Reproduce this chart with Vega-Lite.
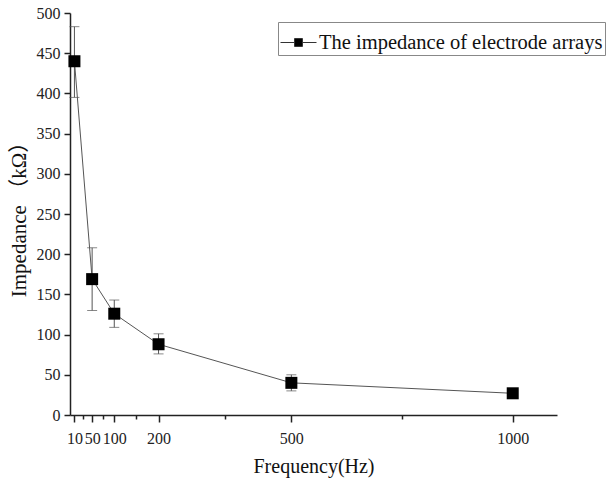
{
  "$schema": "https://vega.github.io/schema/vega-lite/v6.json",
  "width": 487,
  "height": 402,
  "autosize": {"type": "none"},
  "padding": {"left": 70, "top": 13, "right": 50, "bottom": 63},
  "background": "white",
  "data": {"values": [
    {"f": 10, "z": 440, "lo": 395, "hi": 483},
    {"f": 50, "z": 169, "lo": 130, "hi": 208},
    {"f": 100, "z": 126, "lo": 109, "hi": 143},
    {"f": 200, "z": 88, "lo": 76, "hi": 101},
    {"f": 500, "z": 40, "lo": 30, "hi": 50},
    {"f": 1000, "z": 27, "lo": 25, "hi": 29}
  ]},
  "config": {
    "font": "Liberation Serif",
    "view": {"stroke": null},
    "axis": {
      "domainColor": "#222", "tickColor": "#222", "labelColor": "#222", "titleColor": "#111",
      "grid": false, "labelFont": "Liberation Serif", "titleFont": "Liberation Serif, Noto Sans CJK SC",
      "titleFontWeight": "normal", "labelFontSize": 16, "titleFontSize": 20, "domainWidth": 1.5, "tickWidth": 1.5
    }
  },
  "encoding": {
    "x": {"field": "f", "type": "quantitative",
      "scale": {"domain": [0, 1100], "nice": false, "zero": false},
      "axis": {
        "title": "Frequency(Hz)",
        "format": "d",
        "values": [10, 30, 50, 75, 100, 150, 200, 350, 500, 750, 1000],
        "labelExpr": "indexof([10,50,100,200,500,1000], datum.value) >= 0 ? datum.label : ''",
        "tickSize": {"condition": {"test": "indexof([10,50,100,200,500,1000], datum.value) >= 0", "value": 7}, "value": 4},
        "labelPadding": 8,
        "titlePadding": 10,
        "labelFlush": false,
        "labelOverlap": false
      }
    }
  },
  "layer": [
    {
      "mark": {"type": "rule", "color": "#555", "strokeWidth": 1},
      "encoding": {
        "y": {"field": "lo", "type": "quantitative",
          "scale": {"domain": [0, 500], "nice": false},
          "axis": {
            "title": "Impedance （kΩ）",
            "titleFontSize": 21,
            "values": [0,25,50,75,100,125,150,175,200,225,250,275,300,325,350,375,400,425,450,475,500],
            "labelExpr": "datum.value % 50 == 0 ? datum.label : ''",
            "tickSize": {"condition": {"test": "datum.value % 50 == 0", "value": 6}, "value": 3},
            "labelPadding": 4,
            "titlePadding": 7,
            "labelFlush": false,
            "labelOverlap": false
          }
        },
        "y2": {"field": "hi"}
      }
    },
    {
      "mark": {"type": "tick", "orient": "horizontal", "size": 10, "thickness": 1, "color": "#555"},
      "encoding": {"y": {"field": "lo", "type": "quantitative"}}
    },
    {
      "mark": {"type": "tick", "orient": "horizontal", "size": 10, "thickness": 1, "color": "#555"},
      "encoding": {"y": {"field": "hi", "type": "quantitative"}}
    },
    {
      "mark": {"type": "line", "color": "#555", "strokeWidth": 1},
      "encoding": {"y": {"field": "z", "type": "quantitative"}}
    },
    {
      "mark": {"type": "point", "shape": "square", "filled": true, "size": 144, "opacity": 1},
      "encoding": {
        "y": {"field": "z", "type": "quantitative"},
        "color": {
          "datum": "The impedance of electrode arrays",
          "scale": {"range": ["black"]},
          "legend": {
            "title": null,
            "orient": "none",
            "legendX": 208,
            "legendY": 9,
            "symbolType": "M-1,0H-0.22M0.22,0H1M-0.22,-0.22H0.22V0.22H-0.22Z",
            "symbolSize": 1296,
            "symbolStrokeWidth": 1,
            "symbolFillColor": "black",
            "symbolStrokeColor": "#333",
            "labelFont": "Liberation Serif",
            "labelFontSize": 20.5,
            "labelColor": "#111",
            "labelOffset": 2,
            "strokeColor": "#888",
            "fillColor": "white",
            "padding": 2,
            "labelLimit": 400
          }
        }
      }
    }
  ]
}
